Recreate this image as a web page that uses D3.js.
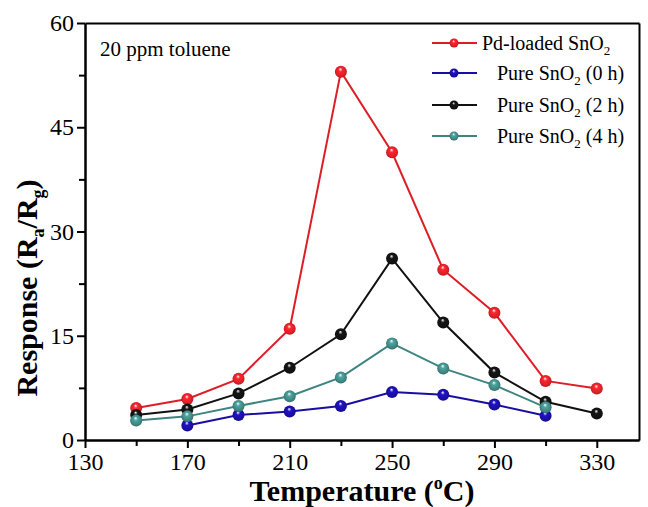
<!DOCTYPE html>
<html>
<head>
<meta charset="utf-8">
<script src="https://cdn.jsdelivr.net/npm/d3@7"></script>
<style>
  html, body { margin: 0; padding: 0; background: #fff; }
  svg { display: block; font-family: "Liberation Serif", "Times New Roman", serif; }
</style>
</head>
<body>
<div id="chart"></div>
<script>
// temperatures (°C) and responses
const temps = [150, 170, 190, 210, 230, 250, 270, 290, 310, 330];
const pdLoaded = [4.6, 5.9, 8.8, 16.0, 53.0, 41.4, 24.5, 18.3, 8.5, 7.4];
const pure0h = [null, 2.1, 3.6, 4.1, 4.9, 6.9, 6.5, 5.1, 3.5, null];
const pure2h = [3.6, 4.4, 6.7, 10.4, 15.2, 26.1, 16.9, 9.7, 5.5, 3.8];
const pure4h = [2.8, 3.4, 4.9, 6.3, 9.0, 13.9, 10.3, 7.9, 4.7, null];

const xMajor = [130, 170, 210, 250, 290, 330];
const xMinor = [150, 190, 230, 270, 310];
const yMajor = [0, 15, 30, 45, 60];
const yMinor = [7.5, 22.5, 37.5, 52.5];

const series = [
    { name: 'Pd-loaded', values: pdLoaded, color: '#dc1f26', id: 'red' },
    { name: 'Pure', tag: '(0 h)', values: pure0h, color: '#1a0ea2', id: 'blue' },
    { name: 'Pure', tag: '(2 h)', values: pure2h, color: '#111111', id: 'black' },
    { name: 'Pure', tag: '(4 h)', values: pure4h, color: '#3e8581', id: 'teal' }
];

const width = 648;
const height = 507;
const plotLeft = 85, plotRight = 639, plotTop = 23, plotBottom = 440;

const svg = d3.select('#chart')
    .append('svg')
    .attr('width', width)
    .attr('height', height);

const x = d3.scaleLinear().domain([130, 346.5]).range([plotLeft, plotRight]);
const y = d3.scaleLinear().domain([0, 60]).range([plotBottom, plotTop]);

// shiny ball gradients
const defs = svg.append('defs');
series.forEach(function(s) {
    const g = defs.append('radialGradient')
        .attr('id', 'ball-' + s.id)
        .attr('cx', '50%').attr('cy', '50%').attr('r', '55%')
        .attr('fx', '45%').attr('fy', '28%');
    g.append('stop').attr('offset', '0%').attr('stop-color', '#ffffff');
    g.append('stop').attr('offset', '30%').attr('stop-color', d3.color(s.color).brighter(0.6));
    g.append('stop').attr('offset', '75%').attr('stop-color', s.color);
    g.append('stop').attr('offset', '100%').attr('stop-color', d3.color(s.color).darker(0.8));
});

// axes
function styleAxis(g) {
    g.select('.domain').attr('stroke', '#000').attr('stroke-width', 2);
    g.selectAll('.tick line').attr('stroke', '#000').attr('stroke-width', 2);
    g.selectAll('.tick text')
        .attr('font-size', 24)
        .attr('font-family', '"Liberation Serif", serif')
        .attr('fill', '#000');
}

svg.append('g')
    .attr('transform', `translate(0, ${plotBottom})`)
    .call(d3.axisBottom(x).tickValues(xMinor).tickSize(6).tickSizeOuter(0).tickFormat(''))
    .call(styleAxis);

svg.append('g')
    .attr('transform', `translate(0, ${plotBottom})`)
    .call(d3.axisBottom(x).tickValues(xMajor).tickSize(8).tickPadding(5).tickSizeOuter(0))
    .call(styleAxis);

svg.append('g')
    .attr('transform', `translate(${plotLeft}, 0)`)
    .call(d3.axisLeft(y).tickValues(yMinor).tickSize(6).tickSizeOuter(0).tickFormat(''))
    .call(styleAxis);

svg.append('g')
    .attr('transform', `translate(${plotLeft}, 0)`)
    .call(d3.axisLeft(y).tickValues(yMajor).tickSize(8).tickPadding(3).tickSizeOuter(0))
    .call(styleAxis);

svg.append('g')
    .attr('transform', `translate(0, ${plotTop})`)
    .call(d3.axisTop(x).tickValues([]).tickSizeOuter(0))
    .call(styleAxis);

svg.append('g')
    .attr('transform', `translate(${plotRight}, 0)`)
    .call(d3.axisRight(y).tickValues([]).tickSizeOuter(0))
    .call(styleAxis);

// series
const line = d3.line()
    .defined(d => d.v !== null)
    .x(d => x(d.t))
    .y(d => y(d.v));

series.forEach(function(s) {
    const pts = temps.map((t, i) => ({ t: t, v: s.values[i] }));
    svg.append('path')
        .datum(pts)
        .attr('fill', 'none')
        .attr('stroke', s.color)
        .attr('stroke-width', 2)
        .attr('d', line);
    svg.append('g')
        .selectAll('circle')
        .data(pts.filter(d => d.v !== null))
        .enter()
        .append('circle')
        .attr('cx', d => x(d.t))
        .attr('cy', d => y(d.v))
        .attr('r', 6)
        .attr('fill', 'url(#ball-' + s.id + ')');
});

// annotation
svg.append('text')
    .attr('x', 100)
    .attr('y', 56)
    .attr('font-size', 21)
    .text('20 ppm toluene');

// legend
const legend = svg.append('g');
const rowY = [43, 73, 105, 136];
series.forEach(function(s, i) {
    const yy = rowY[i];
    legend.append('line')
        .attr('x1', 432).attr('x2', 477)
        .attr('y1', yy).attr('y2', yy)
        .attr('stroke', s.color).attr('stroke-width', 2);
    legend.append('circle')
        .attr('cx', 454).attr('cy', yy).attr('r', 4.5)
        .attr('fill', 'url(#ball-' + s.id + ')');
    const t = legend.append('text')
        .attr('x', i === 0 ? 482 : 497)
        .attr('y', yy + 7)
        .attr('font-size', 20);
    t.append('tspan').text(s.name + ' SnO');
    t.append('tspan').attr('font-size', 13).attr('dy', 5).text('2');
    if (s.tag) {
        t.append('tspan').attr('dy', -5).text(' ' + s.tag);
    }
});

// axis titles
const xt = svg.append('text')
    .attr('x', 362)
    .attr('y', 501)
    .attr('text-anchor', 'middle')
    .attr('font-size', 30)
    .attr('font-weight', 'bold');
xt.append('tspan').text('Temperature (');
xt.append('tspan').attr('font-size', 18).attr('dy', -12).text('o');
xt.append('tspan').attr('dy', 12).text('C)');

const yt = svg.append('text')
    .attr('transform', 'translate(37, 288) rotate(-90)')
    .attr('text-anchor', 'middle')
    .attr('font-size', 30)
    .attr('font-weight', 'bold');
yt.append('tspan').text('Response (R');
yt.append('tspan').attr('font-size', 18).attr('dy', 7).text('a');
yt.append('tspan').attr('dy', -7).text('/R');
yt.append('tspan').attr('font-size', 18).attr('dy', 7).text('g');
yt.append('tspan').attr('dy', -7).text(')');
</script>
</body>
</html>
